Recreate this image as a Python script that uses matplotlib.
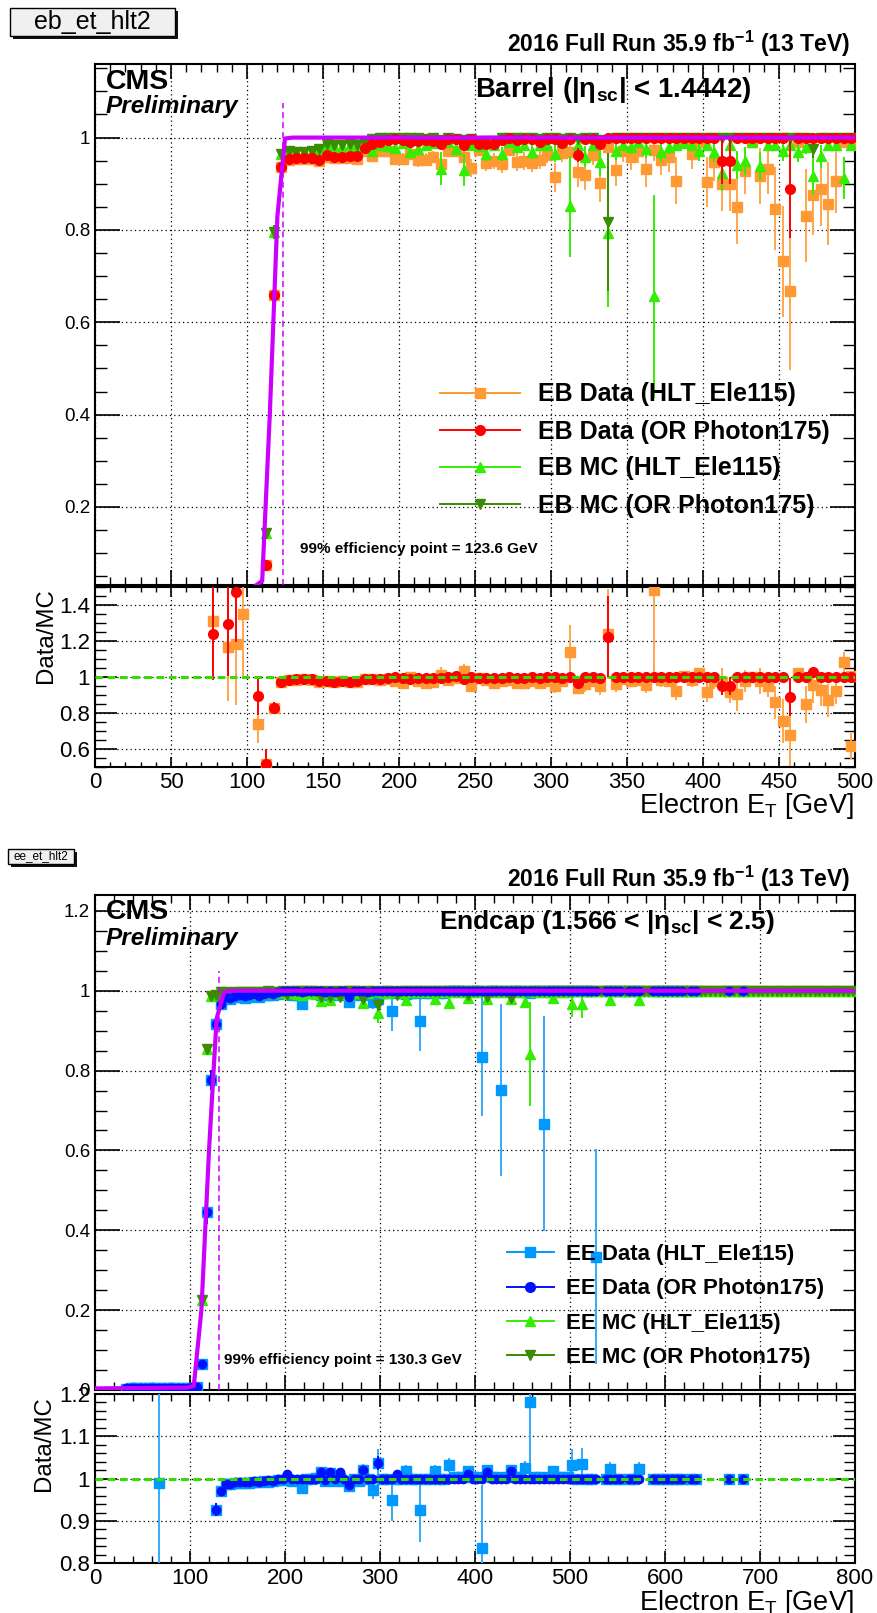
import numpy as np
import pandas as pd
import matplotlib
matplotlib.use("Agg")
import matplotlib.pyplot as plt
from matplotlib.lines import Line2D
from matplotlib.patches import Rectangle
from matplotlib.ticker import MultipleLocator, FuncFormatter
from matplotlib.font_manager import FontProperties

plt.rcParams['font.family'] = ['Liberation Sans', 'DejaVu Sans']
plt.rcParams['mathtext.fontset'] = 'custom'
plt.rcParams['mathtext.rm'] = 'Liberation Sans'
plt.rcParams['mathtext.it'] = 'Liberation Sans:italic'
plt.rcParams['mathtext.bf'] = 'Liberation Sans:bold'

# ------------------------------------------------------------------ data
# 5 GeV bin centres shared by barrel and endcap (112.5 ... 497.5)
et_bins = [112.5, 117.5, 122.5, 127.5, 132.5, 137.5, 142.5, 147.5, 152.5, 157.5,
           162.5, 167.5, 172.5, 177.5, 182.5, 187.5, 192.5, 197.5, 202.5, 207.5,
           212.5, 217.5, 222.5, 227.5, 232.5, 237.5, 242.5, 247.5, 252.5, 257.5,
           262.5, 267.5, 272.5, 277.5, 282.5, 287.5, 292.5, 297.5, 302.5, 307.5,
           312.5, 317.5, 322.5, 327.5, 332.5, 337.5, 342.5, 347.5, 352.5, 357.5,
           362.5, 367.5, 372.5, 377.5, 382.5, 387.5, 392.5, 397.5, 402.5, 407.5,
           412.5, 417.5, 422.5, 427.5, 432.5, 437.5, 442.5, 447.5, 452.5, 457.5,
           462.5, 467.5, 472.5, 477.5, 482.5, 487.5, 492.5, 497.5]

# ---- Barrel
eb_data_hlt = [0.074, 0.659, 0.936, 0.952, 0.953, 0.954, 0.953, 0.949, 0.958, 0.955,
               0.955, 0.956, 0.954, 0.970, 0.960, 0.970, 0.972, 0.954, 0.954, 0.965,
               0.951, 0.952, 0.958, 0.943, 0.970, 0.971, 0.958, 0.934, 0.974, 0.946,
               0.949, 0.943, 0.974, 0.947, 0.949, 0.945, 0.952, 0.963, 0.914, 0.967,
               0.969, 0.925, 0.920, 0.962, 0.901, 0.980, 0.930, 0.972, 0.958, 0.971,
               0.932, 0.974, 0.952, 0.958, 0.907, 0.990, 0.965, 0.990, 0.904, 0.947,
               0.900, 0.900, 0.849, 0.928, 0.990, 0.917, 0.933, 0.846, 0.732, 0.667,
               0.990, 0.831, 0.875, 0.889, 0.857, 0.907, 0.990, 0.990]
eb_data_hlt_err = [0.010, 0.020, 0.008, 0.006, 0.006, 0.006, 0.006, 0.006, 0.006, 0.006,
                   0.006, 0.006, 0.007, 0.010, 0.012, 0.010, 0.010, 0.013, 0.013, 0.012,
                   0.014, 0.014, 0.014, 0.016, 0.012, 0.012, 0.015, 0.020, 0.012, 0.018,
                   0.018, 0.020, 0.014, 0.020, 0.020, 0.020, 0.020, 0.018, 0.032, 0.020,
                   0.020, 0.032, 0.034, 0.022, 0.040, 0.018, 0.035, 0.025, 0.028, 0.025,
                   0.038, 0.025, 0.032, 0.032, 0.050, 0.012, 0.032, 0.012, 0.055, 0.040,
                   0.060, 0.060, 0.080, 0.050, 0.012, 0.060, 0.055, 0.090, 0.120, 0.170,
                   0.012, 0.100, 0.085, 0.080, 0.090, 0.070, 0.012, 0.012]
eb_data_or = [0.074, 0.659, 0.936, 0.954, 0.956, 0.956, 0.956, 0.951, 0.962, 0.958,
              0.958, 0.960, 0.960, 0.978, 0.987, 0.990, 0.994, 0.998, 0.994, 0.990,
              0.992, 0.994, 0.992, 0.986, 0.998, 0.998, 0.984, 0.998, 0.986, 0.987,
              0.987, 0.995, 1.000, 0.995, 0.996, 0.997, 0.990, 0.998, 0.998, 0.988,
              0.998, 0.963, 0.998, 0.998, 0.986, 1.000, 1.000, 1.000, 1.000, 1.000,
              1.000, 1.000, 1.000, 1.000, 1.000, 1.000, 1.000, 1.000, 1.000, 1.000,
              0.949, 0.949, 1.000, 1.000, 1.000, 1.000, 1.000, 1.000, 1.000, 0.888,
              1.000, 1.000, 1.000, 1.000, 1.000, 1.000, 1.000, 1.000]
eb_data_or_err = [0.010, 0.020, 0.008, 0.005, 0.005, 0.005, 0.005, 0.005, 0.005, 0.005,
                  0.005, 0.005, 0.005, 0.004, 0.004, 0.004, 0.003, 0.003, 0.003, 0.004,
                  0.004, 0.004, 0.004, 0.005, 0.003, 0.003, 0.006, 0.003, 0.006, 0.006,
                  0.006, 0.004, 0.003, 0.004, 0.004, 0.004, 0.006, 0.003, 0.003, 0.007,
                  0.003, 0.015, 0.003, 0.003, 0.009, 0.003, 0.003, 0.003, 0.003, 0.003,
                  0.003, 0.003, 0.003, 0.003, 0.003, 0.003, 0.003, 0.003, 0.003, 0.003,
                  0.050, 0.050, 0.003, 0.003, 0.003, 0.003, 0.003, 0.003, 0.003, 0.105,
                  0.003, 0.003, 0.003, 0.003, 0.003, 0.003, 0.003, 0.003]
eb_mc_hlt = [0.143, 0.795, 0.965, 0.971, 0.968, 0.968, 0.970, 0.975, 0.983, 0.982,
             0.980, 0.983, 0.980, 0.982, 0.972, 0.985, 0.982, 0.978, 0.988, 0.968,
             0.975, 0.985, 0.988, 0.933, 0.990, 0.975, 0.930, 0.985, 0.982, 0.965,
             0.985, 0.965, 0.990, 0.980, 0.985, 0.969, 0.985, 0.985, 0.965, 0.990,
             0.851, 0.985, 0.959, 0.985, 0.947, 0.793, 0.971, 0.985, 0.980, 0.990,
             0.975, 0.656, 0.968, 0.980, 0.985, 0.988, 0.985, 0.970, 0.985, 0.968,
             0.924, 0.985, 0.941, 0.950, 0.990, 0.938, 0.985, 0.985, 0.970, 0.985,
             0.968, 0.980, 0.916, 0.960, 0.985, 0.985, 0.913, 0.985]
eb_mc_hlt_err = [0.010, 0.015, 0.006, 0.006, 0.006, 0.006, 0.006, 0.006, 0.006, 0.006,
                 0.006, 0.006, 0.006, 0.006, 0.008, 0.007, 0.007, 0.008, 0.006, 0.010,
                 0.010, 0.008, 0.008, 0.035, 0.008, 0.012, 0.035, 0.010, 0.010, 0.015,
                 0.010, 0.015, 0.010, 0.012, 0.010, 0.015, 0.012, 0.012, 0.018, 0.010,
                 0.110, 0.012, 0.022, 0.012, 0.030, 0.160, 0.020, 0.012, 0.015, 0.010,
                 0.020, 0.220, 0.020, 0.015, 0.012, 0.012, 0.012, 0.020, 0.012, 0.020,
                 0.040, 0.012, 0.030, 0.030, 0.010, 0.030, 0.012, 0.012, 0.020, 0.012,
                 0.020, 0.015, 0.040, 0.025, 0.012, 0.012, 0.045, 0.012]
eb_mc_or = [0.143, 0.795, 0.965, 0.971, 0.968, 0.968, 0.970, 0.975, 0.986, 0.984,
            0.983, 0.986, 0.983, 0.988, 0.997, 1.000, 0.999, 1.000, 1.000, 1.000,
            0.999, 0.998, 1.000, 0.994, 1.000, 0.996, 0.994, 0.998, 0.991, 0.992,
            0.992, 1.000, 1.000, 1.000, 1.000, 0.999, 0.996, 1.000, 1.000, 0.996,
            1.000, 0.996, 1.000, 1.000, 0.995, 0.817, 1.000, 1.000, 1.000, 1.000,
            1.000, 1.000, 1.000, 1.000, 1.000, 1.000, 1.000, 1.000, 1.000, 1.000,
            1.000, 1.000, 1.000, 1.000, 1.000, 1.000, 1.000, 1.000, 1.000, 1.000,
            1.000, 1.000, 0.976, 1.000, 1.000, 1.000, 1.000, 1.000]
eb_mc_or_err = [0.010, 0.015, 0.006, 0.005, 0.005, 0.005, 0.005, 0.005, 0.004, 0.004,
                0.004, 0.004, 0.004, 0.004, 0.003, 0.002, 0.002, 0.002, 0.002, 0.002,
                0.002, 0.002, 0.002, 0.004, 0.002, 0.003, 0.004, 0.002, 0.005, 0.005,
                0.005, 0.002, 0.002, 0.002, 0.002, 0.002, 0.004, 0.002, 0.002, 0.004,
                0.002, 0.004, 0.002, 0.002, 0.005, 0.150, 0.002, 0.002, 0.002, 0.002,
                0.002, 0.002, 0.002, 0.002, 0.002, 0.002, 0.002, 0.002, 0.002, 0.002,
                0.002, 0.002, 0.002, 0.002, 0.002, 0.002, 0.002, 0.002, 0.002, 0.002,
                0.002, 0.002, 0.020, 0.002, 0.002, 0.002, 0.002, 0.002]
# barrel Data/MC points shown only in the ratio pad
eb_extra_hlt = [77.5, 87.5, 92.5, 97.5, 107.5, 497.5]
eb_extra_ratio_hlt = [1.309, 1.164, 1.185, 1.350, 0.740, 0.615]
eb_extra_ratio_hlt_err = [0.31, 0.30, 0.34, 0.36, 0.11, 0.07]
eb_extra_or = [77.5, 87.5, 92.5, 107.5]
eb_extra_ratio_or = [1.240, 1.294, 1.472, 0.892]
eb_extra_ratio_or_err = [0.26, 0.29, 0.28, 0.105]
# barrel fit curve (as drawn) and 99% point
eb_fit_x = [0, 95, 105, 110, 115, 120, 125, 130, 500]
eb_fit_y = [0.0, 0.0, 0.028, 0.04, 0.40, 0.83, 0.998, 1.0, 1.0]
eb_eff99 = 123.6

# ---- Endcap
ee_lowx = [32.5, 37.5, 42.5, 47.5, 52.5, 57.5, 62.5, 67.5, 72.5, 77.5,
           82.5, 87.5, 92.5, 97.5, 102.5, 107.5]
ee_lowx_data_or = [0.004, 0.005, 0.004, 0.006, 0.005, 0.004, 0.006, 0.005, 0.005, 0.004,
                   0.006, 0.005, 0.005, 0.006, 0.007, 0.008]
ee_lowx_data_hlt = [0.003, 0.004, 0.004, 0.005, 0.004, 0.004, 0.005, 0.005, 0.004, 0.004,
                    0.005, 0.004, 0.005, 0.005, 0.006, 0.007]
ee_lowx_err = [0.002, 0.002, 0.002, 0.002, 0.002, 0.002, 0.002, 0.002, 0.002, 0.002,
               0.002, 0.002, 0.002, 0.002, 0.002, 0.002]
ee_data_or = [0.065, 0.445, 0.777, 0.917, 0.967, 0.985, 0.983, 0.988, 0.990, 0.988,
              0.990, 0.992, 0.988, 0.993, 0.995, 0.993, 0.997, 1.000, 1.000, 1.000,
              1.000, 0.998, 1.000, 1.000, 1.000, 1.000, 0.996, 1.000, 0.998, 1.000,
              1.000, 0.985, 1.000, 1.000, 1.000, 0.998, 1.000, 1.000, 1.000, 1.000,
              1.000, 1.000, 1.000, 1.000, 1.000, 1.000, 1.000, 1.000, 1.000, 1.000,
              1.000, 1.000, 1.000, 1.000, 1.000, 1.000, 1.000, 1.000, 1.000, 1.000,
              1.000, 1.000, 1.000, 1.000, 1.000, 1.000, 1.000, 1.000, 1.000, 1.000,
              1.000, 1.000, 1.000, 1.000, 1.000, 1.000, 1.000, 1.000]
ee_data_or_err = [0.010, 0.030, 0.025, 0.015, 0.008, 0.005, 0.005, 0.004, 0.004, 0.004,
                  0.004, 0.004, 0.004, 0.004, 0.004, 0.004, 0.003, 0.002, 0.002, 0.002,
                  0.002, 0.003, 0.002, 0.002, 0.002, 0.002, 0.004, 0.002, 0.003, 0.002,
                  0.002, 0.008, 0.002, 0.002, 0.002, 0.003, 0.002, 0.002, 0.002, 0.002,
                  0.002, 0.002, 0.002, 0.002, 0.002, 0.002, 0.002, 0.002, 0.002, 0.002,
                  0.002, 0.002, 0.002, 0.002, 0.002, 0.002, 0.002, 0.002, 0.002, 0.002,
                  0.002, 0.002, 0.002, 0.002, 0.002, 0.002, 0.002, 0.002, 0.002, 0.002,
                  0.002, 0.002, 0.002, 0.002, 0.002, 0.002, 0.002, 0.002]
ee_data_hlt = [0.065, 0.445, 0.777, 0.917, 0.967, 0.982, 0.980, 0.985, 0.985, 0.983,
               0.985, 0.988, 0.985, 0.990, 0.990, 0.990, 0.993, 0.995, 0.995, 0.990,
               0.990, 0.967, 0.995, 0.995, 0.995, 0.990, 0.990, 0.990, 0.990, 0.995,
               0.990, 0.973, 0.995, 0.990, 0.990, 0.995, 0.973, 0.980, 0.995, 0.995,
               0.950, 0.995, 0.995, 0.993, 0.995, 0.995, 0.925, 0.995, 0.995, 0.997,
               0.995, 0.995, 1.000, 1.000, 1.000, 1.000, 1.000, 1.000, 1.000, 0.835,
               1.000, 1.000, 1.000, 0.752, 1.000, 1.000, 1.000, 1.000, 0.997, 0.995,
               1.000, 1.000, 0.667, 1.000, 1.000, 1.000, 1.000, 1.000]
ee_data_hlt_err = [0.010, 0.030, 0.025, 0.015, 0.008, 0.006, 0.006, 0.005, 0.005, 0.005,
                   0.005, 0.005, 0.005, 0.005, 0.005, 0.005, 0.004, 0.004, 0.004, 0.005,
                   0.005, 0.012, 0.004, 0.004, 0.004, 0.006, 0.006, 0.006, 0.006, 0.005,
                   0.006, 0.010, 0.005, 0.007, 0.007, 0.005, 0.020, 0.015, 0.005, 0.005,
                   0.050, 0.005, 0.005, 0.008, 0.005, 0.005, 0.075, 0.005, 0.005, 0.005,
                   0.005, 0.005, 0.003, 0.003, 0.003, 0.003, 0.003, 0.003, 0.003, 0.150,
                   0.003, 0.003, 0.003, 0.215, 0.003, 0.003, 0.003, 0.003, 0.005, 0.005,
                   0.003, 0.003, 0.270, 0.003, 0.003, 0.003, 0.003, 0.003]
ee_mc_hlt = [0.226, 0.854, 0.987, 0.990, 0.997, 0.995, 0.993, 0.995, 0.995, 0.993,
             0.995, 0.995, 0.993, 0.995, 0.997, 0.995, 0.997, 0.998, 0.995, 0.995,
             0.993, 0.990, 0.997, 0.995, 0.993, 0.975, 0.995, 0.978, 0.995, 0.993,
             0.995, 0.990, 0.997, 0.995, 0.970, 0.995, 1.000, 0.944, 0.997, 0.995,
             1.000, 0.997, 0.995, 0.976, 0.997, 0.997, 1.000, 0.997, 0.997, 0.979,
             0.997, 0.997, 0.969, 0.997, 0.997, 0.997, 0.983, 0.997, 0.997, 1.000,
             0.980, 0.997, 0.997, 0.997, 0.997, 0.980, 0.997, 0.997, 0.972, 0.842,
             0.997, 0.997, 0.997, 0.997, 0.983, 0.997, 0.997, 0.997]
ee_mc_hlt_err = [0.010, 0.010, 0.004, 0.004, 0.003, 0.003, 0.003, 0.003, 0.003, 0.003,
                 0.003, 0.003, 0.003, 0.003, 0.003, 0.003, 0.003, 0.002, 0.003, 0.003,
                 0.004, 0.005, 0.003, 0.004, 0.004, 0.010, 0.004, 0.010, 0.004, 0.004,
                 0.004, 0.006, 0.003, 0.004, 0.012, 0.004, 0.002, 0.025, 0.003, 0.004,
                 0.002, 0.003, 0.004, 0.012, 0.003, 0.003, 0.002, 0.003, 0.003, 0.012,
                 0.003, 0.003, 0.015, 0.003, 0.003, 0.003, 0.010, 0.003, 0.003, 0.002,
                 0.012, 0.003, 0.003, 0.003, 0.003, 0.012, 0.003, 0.003, 0.015, 0.130,
                 0.003, 0.003, 0.003, 0.003, 0.012, 0.003, 0.003, 0.003]
ee_mc_or = [0.226, 0.854, 0.987, 0.990, 0.997, 0.997, 0.995, 0.997, 0.997, 0.996,
            0.997, 0.997, 0.996, 0.998, 0.999, 0.998, 0.998, 1.000, 0.990, 1.000,
            1.000, 1.000, 1.000, 1.000, 1.000, 0.985, 1.000, 0.985, 1.000, 0.985,
            1.000, 1.000, 1.000, 1.000, 0.980, 1.000, 1.000, 0.965, 1.000, 1.000,
            1.000, 0.990, 1.000, 1.000, 1.000, 1.000, 1.000, 1.000, 1.000, 1.000,
            1.000, 1.000, 1.000, 1.000, 1.000, 1.000, 0.990, 1.000, 1.000, 1.000,
            0.985, 1.000, 1.000, 1.000, 1.000, 0.982, 1.000, 1.000, 1.000, 1.000,
            1.000, 1.000, 1.000, 1.000, 1.000, 1.000, 1.000, 1.000]
ee_mc_or_err = [0.010, 0.010, 0.004, 0.004, 0.003, 0.003, 0.003, 0.003, 0.003, 0.003,
                0.003, 0.003, 0.003, 0.003, 0.002, 0.002, 0.002, 0.002, 0.006, 0.002,
                0.002, 0.002, 0.002, 0.002, 0.002, 0.006, 0.002, 0.006, 0.002, 0.006,
                0.002, 0.002, 0.002, 0.002, 0.008, 0.002, 0.002, 0.015, 0.002, 0.002,
                0.002, 0.006, 0.002, 0.002, 0.002, 0.002, 0.002, 0.002, 0.002, 0.002,
                0.002, 0.002, 0.002, 0.002, 0.002, 0.002, 0.006, 0.002, 0.002, 0.002,
                0.006, 0.002, 0.002, 0.002, 0.002, 0.006, 0.002, 0.002, 0.002, 0.002,
                0.002, 0.002, 0.002, 0.002, 0.002, 0.002, 0.002, 0.002]
# endcap high-ET bins
ee_hx_data = [502.5, 507.5, 512.5, 517.5, 522.5, 527.5, 537.5, 542.5, 547.5, 552.5,
              562.5, 567.5, 572.5, 587.5, 592.5, 597.5, 602.5, 607.5, 612.5, 617.5,
              627.5, 632.5, 667.5, 682.5]
ee_hx_data_or = [1.0, 1.0, 1.0, 1.0, 1.0, 1.0, 1.0, 1.0, 1.0, 1.0, 1.0, 1.0,
                 1.0, 1.0, 1.0, 1.0, 1.0, 1.0, 1.0, 1.0, 1.0, 1.0, 1.0, 1.0]
ee_hx_data_hlt = [1.0, 1.0, 1.0, 1.0, 1.0, 0.334, 1.0, 1.0, 1.0, 1.0, 1.0, 1.0,
                  1.0, 1.0, 1.0, 1.0, 1.0, 1.0, 1.0, 1.0, 1.0, 1.0, 1.0, 1.0]
ee_hx_data_or_err = [0.004, 0.004, 0.004, 0.004, 0.004, 0.004, 0.004, 0.004, 0.004, 0.004, 0.004, 0.004,
                     0.004, 0.004, 0.004, 0.004, 0.004, 0.004, 0.004, 0.004, 0.004, 0.004, 0.004, 0.004]
ee_hx_data_hlt_err = [0.004, 0.004, 0.004, 0.004, 0.004, 0.270, 0.004, 0.004, 0.004, 0.004, 0.004, 0.004,
                      0.004, 0.004, 0.004, 0.004, 0.004, 0.004, 0.004, 0.004, 0.004, 0.004, 0.004, 0.004]
ee_hx_mc = [502.5, 507.5, 512.5, 517.5, 522.5, 527.5, 532.5, 537.5, 542.5, 547.5,
            552.5, 557.5, 562.5, 567.5, 572.5, 577.5, 582.5, 587.5, 592.5, 597.5,
            602.5, 607.5, 612.5, 617.5, 622.5, 627.5, 632.5, 637.5, 642.5, 647.5,
            652.5, 657.5, 662.5, 667.5, 672.5, 677.5, 682.5, 687.5, 692.5, 697.5,
            702.5, 707.5, 712.5, 717.5, 722.5, 727.5, 732.5, 737.5, 742.5, 747.5,
            752.5, 757.5, 762.5, 767.5, 772.5, 777.5, 782.5, 787.5, 792.5, 797.5]
ee_hx_mc_hlt = [0.968, 1.0, 0.966, 1.0, 1.0, 1.0, 1.0, 1.0, 0.978, 1.0,
                1.0, 1.0, 1.0, 1.0, 0.978, 1.0, 1.0, 1.0, 1.0, 1.0,
                1.0, 1.0, 1.0, 1.0, 1.0, 1.0, 1.0, 1.0, 1.0, 1.0,
                1.0, 1.0, 1.0, 1.0, 1.0, 1.0, 1.0, 1.0, 1.0, 1.0,
                1.0, 1.0, 1.0, 1.0, 1.0, 1.0, 1.0, 1.0, 1.0, 1.0,
                1.0, 1.0, 1.0, 1.0, 1.0, 1.0, 1.0, 1.0, 1.0, 1.0]
ee_hx_mc_hlt_err = [0.035, 0.002, 0.035, 0.002, 0.002, 0.002, 0.002, 0.002, 0.015, 0.002,
                    0.002, 0.002, 0.002, 0.002, 0.015, 0.002, 0.002, 0.002, 0.002, 0.002,
                    0.002, 0.002, 0.002, 0.002, 0.002, 0.002, 0.002, 0.002, 0.002, 0.002,
                    0.002, 0.002, 0.002, 0.002, 0.002, 0.002, 0.002, 0.002, 0.002, 0.002,
                    0.002, 0.002, 0.002, 0.002, 0.002, 0.002, 0.002, 0.002, 0.002, 0.002,
                    0.002, 0.002, 0.002, 0.002, 0.002, 0.002, 0.002, 0.002, 0.002, 0.002]
ee_hx_mc_or = [1.0, 1.0, 1.0, 1.0, 1.0, 1.0, 1.0, 1.0, 1.0, 1.0,
               1.0, 1.0, 1.0, 1.0, 1.0, 1.0, 1.0, 1.0, 1.0, 1.0,
               1.0, 1.0, 1.0, 1.0, 1.0, 1.0, 1.0, 1.0, 1.0, 1.0,
               1.0, 1.0, 1.0, 1.0, 1.0, 1.0, 1.0, 1.0, 1.0, 1.0,
               1.0, 1.0, 1.0, 1.0, 1.0, 1.0, 1.0, 1.0, 1.0, 1.0,
               1.0, 1.0, 1.0, 1.0, 1.0, 1.0, 1.0, 1.0, 1.0, 1.0]
ee_hx_mc_or_err = [0.002, 0.002, 0.002, 0.002, 0.002, 0.002, 0.002, 0.002, 0.002, 0.002,
                   0.002, 0.002, 0.002, 0.002, 0.002, 0.002, 0.002, 0.002, 0.002, 0.002,
                   0.002, 0.002, 0.002, 0.002, 0.002, 0.002, 0.002, 0.002, 0.002, 0.002,
                   0.002, 0.002, 0.002, 0.002, 0.002, 0.002, 0.002, 0.002, 0.002, 0.002,
                   0.002, 0.002, 0.002, 0.002, 0.002, 0.002, 0.002, 0.002, 0.002, 0.002,
                   0.002, 0.002, 0.002, 0.002, 0.002, 0.002, 0.002, 0.002, 0.002, 0.002]
ee_extra_ratio_x = [67.5]
ee_extra_ratio_hlt = [0.99]
ee_extra_ratio_hlt_err = [0.5]
ee_fit_x = [0, 96, 104, 112, 120, 128, 136, 144, 800]
ee_fit_y = [0.004, 0.006, 0.010, 0.20, 0.60, 0.93, 0.997, 1.0, 1.0]
ee_eff99 = 130.3

eb_labels = ['EB Data (HLT_Ele115)', 'EB Data (OR Photon175)',
             'EB MC (HLT_Ele115)', 'EB MC (OR Photon175)']
ee_labels = ['EE Data (HLT_Ele115)', 'EE Data (OR Photon175)',
             'EE MC (HLT_Ele115)', 'EE MC (OR Photon175)']

# ------------------------------------------------------------------ style
C_ORANGE, C_ORANGE_E = '#FF9933', '#FFA64D'
C_RED = '#FF0000'
C_LGREEN = '#33EE00'
C_DGREEN = '#3A8C00'
C_LBLUE, C_LBLUE_E = '#0099FF', '#33AAFF'
C_BLUE = '#0011FF'
C_FIT = '#CC00FF'
C_REF = '#33DD00'

W, H = 877, 1613
fig = plt.figure(figsize=(W / 100, H / 100), dpi=100)
fig.patch.set_facecolor('white')


def rect(left, top, right, bottom):
    return [left / W, 1 - bottom / H, (right - left) / W, (bottom - top) / H]


def fx(px):
    return px / W


def fy(py):
    return 1 - py / H


ax1 = fig.add_axes(rect(95, 63.7, 855, 585))
ax2 = fig.add_axes(rect(95, 587, 855, 766.7))
ax3 = fig.add_axes(rect(95, 894.5, 855, 1390))
ax4 = fig.add_axes(rect(95, 1394, 855, 1563.3))

fmt = FuncFormatter(lambda v, p: '%g' % round(v, 6))


def style_axes(ax, xmaj, xmin, ymaj, ymin, ylen, xlen, ylab_size, xlab_size, ypad, show_x):
    ax.xaxis.set_major_locator(MultipleLocator(xmaj))
    ax.xaxis.set_minor_locator(MultipleLocator(xmin))
    ax.yaxis.set_major_locator(MultipleLocator(ymaj))
    ax.yaxis.set_minor_locator(MultipleLocator(ymin))
    ax.xaxis.set_major_formatter(fmt)
    ax.yaxis.set_major_formatter(fmt)
    ax.tick_params(axis='y', which='major', direction='in', length=ylen[0], width=1.2,
                   left=True, right=True, labelsize=ylab_size, pad=ypad)
    ax.tick_params(axis='y', which='minor', direction='in', length=ylen[1], width=1.0,
                   left=True, right=True)
    ax.tick_params(axis='x', which='major', direction='in', length=xlen[0], width=1.2,
                   top=True, bottom=True, labelsize=xlab_size, pad=3.5, labelbottom=show_x)
    ax.tick_params(axis='x', which='minor', direction='in', length=xlen[1], width=1.0,
                   top=True, bottom=True)
    ax.grid(True, which='major', color='black', linestyle=(0, (1, 2.5)), linewidth=0.9)
    for s in ax.spines.values():
        s.set_linewidth(1.5)


def draw(ax, x, y, e, marker, color, ecolor, ms, z, cap_one=True, keep_in_range=False):
    x = np.asarray(x, float)
    y = np.asarray(y, float)
    e = np.asarray(e, float)
    if keep_in_range:
        lo, hi = ax.get_ylim()
        m = (y >= lo) & (y <= hi)
        x, y, e = x[m], y[m], e[m]
    up = np.minimum(e, np.clip(1.0 - y, 0, None)) if cap_one else e
    ax.errorbar(x, y, yerr=[e, up], fmt=marker, color=color, ecolor=ecolor, ms=ms,
                mec=color, mfc=color, elinewidth=1.4, capsize=0, zorder=z,
                linestyle='none', clip_on=True)


def ratio(xd, yd, ed, xm, ym, em):
    d = pd.DataFrame({'y': yd, 'e': ed}, index=xd)
    m = pd.DataFrame({'y': ym, 'e': em}, index=xm)
    j = d.join(m, lsuffix='_d', rsuffix='_m', how='inner')
    r = j['y_d'] / j['y_m']
    er = r * np.sqrt((j['e_d'] / j['y_d']) ** 2 + (j['e_m'] / j['y_m']) ** 2)
    return list(j.index.values), list(r.values), list(er.values)


# ------------------------------------------------------------------ barrel main
ax1.set_xlim(0, 500)
ax1.set_ylim(0.031, 1.16)
style_axes(ax1, 50, 10, 0.2, 0.05, (18, 8.5), (11, 5.5), 13.5, 11, 3.5, False)
draw(ax1, et_bins, eb_data_hlt, eb_data_hlt_err, 's', C_ORANGE, C_ORANGE_E, 6.5, 3)
draw(ax1, et_bins, eb_mc_hlt, eb_mc_hlt_err, '^', C_LGREEN, C_LGREEN, 7, 4)
draw(ax1, et_bins, eb_mc_or, eb_mc_or_err, 'v', C_DGREEN, C_DGREEN, 7, 5)
draw(ax1, et_bins, eb_data_or, eb_data_or_err, 'o', C_RED, C_RED, 7, 6)
ax1.plot(eb_fit_x, eb_fit_y, color=C_FIT, lw=3.0, zorder=7)
ax1.plot([eb_eff99, eb_eff99], [0.031, 1.075], color=C_FIT, lw=1.1,
         linestyle=(0, (4, 2.5)), zorder=8)

h_eb = [Line2D([], [], color=C_ORANGE, marker='s', ms=7, lw=1.4),
        Line2D([], [], color=C_RED, marker='o', ms=7, lw=1.4),
        Line2D([], [], color=C_LGREEN, marker='^', ms=7, lw=1.4),
        Line2D([], [], color=C_DGREEN, marker='v', ms=7, lw=1.4)]
ax1.legend(h_eb, eb_labels, loc='center left', bbox_to_anchor=(fx(440), fy(450)),
           bbox_transform=fig.transFigure, frameon=False, borderpad=0, borderaxespad=0,
           handlelength=3.2, handletextpad=0.72, labelspacing=0.52,
           prop=FontProperties(family='Liberation Sans', weight='bold', size=18))

# ------------------------------------------------------------------ barrel ratio
ax2.set_xlim(0, 500)
ax2.set_ylim(0.5, 1.5)
style_axes(ax2, 50, 10, 0.2, 0.05, (16, 8), (7, 3.5), 16, 16, 3.5, True)
rx, ry, re = ratio(et_bins, eb_data_hlt, eb_data_hlt_err, et_bins, eb_mc_hlt, eb_mc_hlt_err)
draw(ax2, eb_extra_hlt + rx, eb_extra_ratio_hlt + ry, eb_extra_ratio_hlt_err + re,
     's', C_ORANGE, C_ORANGE_E, 6.5, 3, cap_one=False, keep_in_range=True)
rx, ry, re = ratio(et_bins, eb_data_or, eb_data_or_err, et_bins, eb_mc_or, eb_mc_or_err)
draw(ax2, eb_extra_or + rx, eb_extra_ratio_or + ry, eb_extra_ratio_or_err + re,
     'o', C_RED, C_RED, 7, 4, cap_one=False, keep_in_range=True)
ax2.axhline(1.0, color=C_REF, lw=2.2, linestyle=(0, (2.5, 1.5)), zorder=5)

# ------------------------------------------------------------------ endcap main
ax3.set_xlim(0, 800)
ax3.set_ylim(0, 1.241)
style_axes(ax3, 100, 20, 0.2, 0.05, (18, 8.5), (11, 5.5), 13.5, 11, 3.5, False)
draw(ax3, ee_lowx + et_bins + ee_hx_data, ee_lowx_data_hlt + ee_data_hlt + ee_hx_data_hlt,
     ee_lowx_err + ee_data_hlt_err + ee_hx_data_hlt_err, 's', C_LBLUE, C_LBLUE_E, 6.5, 3)
draw(ax3, et_bins + ee_hx_mc, ee_mc_hlt + ee_hx_mc_hlt, ee_mc_hlt_err + ee_hx_mc_hlt_err,
     '^', C_LGREEN, C_LGREEN, 6.5, 4)
draw(ax3, et_bins + ee_hx_mc, ee_mc_or + ee_hx_mc_or, ee_mc_or_err + ee_hx_mc_or_err,
     'v', C_DGREEN, C_DGREEN, 6.5, 5)
draw(ax3, ee_lowx + et_bins + ee_hx_data, ee_lowx_data_or + ee_data_or + ee_hx_data_or,
     ee_lowx_err + ee_data_or_err + ee_hx_data_or_err, 'o', C_BLUE, C_BLUE, 6, 6)
ax3.plot(ee_fit_x, ee_fit_y, color=C_FIT, lw=3.0, zorder=7)
ax3.plot([ee_eff99, ee_eff99], [0, 1.05], color=C_FIT, lw=1.1,
         linestyle=(0, (4, 2.5)), zorder=8)

h_ee = [Line2D([], [], color=C_LBLUE, marker='s', ms=7, lw=1.4),
        Line2D([], [], color=C_BLUE, marker='o', ms=7, lw=1.4),
        Line2D([], [], color=C_LGREEN, marker='^', ms=7, lw=1.4),
        Line2D([], [], color=C_DGREEN, marker='v', ms=7, lw=1.4)]
ax3.legend(h_ee, ee_labels, loc='center left', bbox_to_anchor=(fx(507), fy(1306)),
           bbox_transform=fig.transFigure, frameon=False, borderpad=0, borderaxespad=0,
           handlelength=2.1, handletextpad=0.54, labelspacing=0.6,
           prop=FontProperties(family='Liberation Sans', weight='bold', size=16))

# ------------------------------------------------------------------ endcap ratio
ax4.set_xlim(0, 800)
ax4.set_ylim(0.8, 1.2)
style_axes(ax4, 100, 20, 0.1, 0.02, (16, 8), (9, 5), 16, 16, 3.5, True)
rx, ry, re = ratio(et_bins + ee_hx_data, ee_data_hlt + ee_hx_data_hlt,
                   ee_data_hlt_err + ee_hx_data_hlt_err,
                   et_bins + ee_hx_mc, ee_mc_hlt + ee_hx_mc_hlt, ee_mc_hlt_err + ee_hx_mc_hlt_err)
draw(ax4, ee_extra_ratio_x + rx, ee_extra_ratio_hlt + ry, ee_extra_ratio_hlt_err + re,
     's', C_LBLUE, C_LBLUE_E, 6.5, 3, cap_one=False, keep_in_range=True)
rx, ry, re = ratio(et_bins + ee_hx_data, ee_data_or + ee_hx_data_or,
                   ee_data_or_err + ee_hx_data_or_err,
                   et_bins + ee_hx_mc, ee_mc_or + ee_hx_mc_or, ee_mc_or_err + ee_hx_mc_or_err)
draw(ax4, rx, ry, re, 'o', C_BLUE, C_BLUE, 6, 4, cap_one=False, keep_in_range=True)
ax4.axhline(1.0, color=C_REF, lw=2.2, linestyle=(0, (2.5, 1.5)), zorder=5)

# ------------------------------------------------------------------ texts
bold = dict(fontweight='bold')


def header(name, box, fs):
    l, t, r, b = box
    fig.patches.append(Rectangle((fx(l + 3), fy(b + 3)), (r - l) / W, (b - t) / H,
                                 transform=fig.transFigure, facecolor='#111111',
                                 edgecolor='none', zorder=1))
    fig.patches.append(Rectangle((fx(l), fy(b)), (r - l) / W, (b - t) / H,
                                 transform=fig.transFigure, facecolor='#F0F0F0',
                                 edgecolor='black', lw=1.0, zorder=2))
    fig.text(fx((l + r) / 2), fy((t + b) / 2), name, ha='center', va='center',
             fontsize=fs, zorder=3)


header('eb_et_hlt2', (10, 8, 175, 36), 18)
header('ee_et_hlt2', (8, 849, 74, 864), 8.5)

lumi = r'2016 Full Run 35.9 fb$^{\mathbf{-1}}$ (13 TeV)'
fig.text(fx(850), fy(44), lumi, ha='right', va='center', fontsize=16.5, **bold)
fig.text(fx(850), fy(879), lumi, ha='right', va='center', fontsize=16.5, **bold)

for yc, yp in [(82, 106), (912, 938)]:
    fig.text(fx(106), fy(yc), 'CMS', ha='left', va='center', fontsize=20.5, **bold)
    fig.text(fx(106), fy(yp), 'Preliminary', ha='left', va='center', fontsize=17.6,
             fontweight='bold', fontstyle='italic')

fig.text(fx(475), fy(90), r'Barrel (|η$_{\mathbf{sc}}$| < 1.4442)', ha='left',
         va='center', fontsize=19.8, **bold)
fig.text(fx(439), fy(922), r'Endcap (1.566 < |η$_{\mathbf{sc}}$| < 2.5)', ha='left',
         va='center', fontsize=19, **bold)

fig.text(fx(300), fy(549), f'99% efficiency point = {eb_eff99:.1f} GeV', ha='left',
         va='center', fontsize=11, **bold)
fig.text(fx(224), fy(1360), f'99% efficiency point = {ee_eff99:.1f} GeV', ha='left',
         va='center', fontsize=11, **bold)

xlab = r'Electron E$_{\mathrm{T}}$ [GeV]'
fig.text(fx(854), fy(813), xlab, ha='right', va='baseline', fontsize=19.5)
fig.text(fx(854), fy(1610), xlab, ha='right', va='baseline', fontsize=19.5)
fig.text(fx(46.5), fy(588), 'Data/MC', rotation=90, ha='center', va='top', fontsize=17.3)
fig.text(fx(44), fy(1396), 'Data/MC', rotation=90, ha='center', va='top', fontsize=17.3)

fig.savefig('out.png', dpi=100, facecolor='white')
